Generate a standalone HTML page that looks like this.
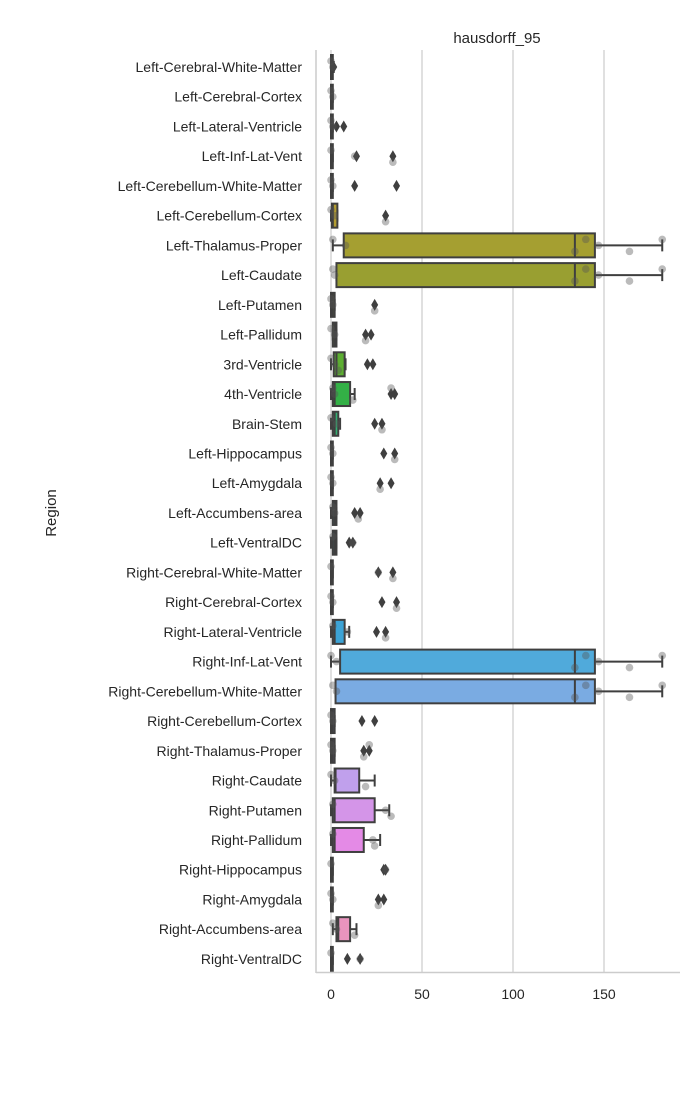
<!DOCTYPE html>
<html><head><meta charset="utf-8"><style>
body{margin:0;background:#fff;}
svg{display:block;font-family:"Liberation Sans","DejaVu Sans",sans-serif;}
</style></head><body>
<svg id="chart" width="700" height="1100" viewBox="0 0 700 1100">
<rect x="0" y="0" width="700" height="1100" fill="#fff"/>
<g id="grid"></g><g id="marks"></g><g id="axes"></g>
</svg>
<script>
const categories=["Left-Cerebral-White-Matter","Left-Cerebral-Cortex","Left-Lateral-Ventricle","Left-Inf-Lat-Vent","Left-Cerebellum-White-Matter","Left-Cerebellum-Cortex","Left-Thalamus-Proper","Left-Caudate","Left-Putamen","Left-Pallidum","3rd-Ventricle","4th-Ventricle","Brain-Stem","Left-Hippocampus","Left-Amygdala","Left-Accumbens-area","Left-VentralDC","Right-Cerebral-White-Matter","Right-Cerebral-Cortex","Right-Lateral-Ventricle","Right-Inf-Lat-Vent","Right-Cerebellum-White-Matter","Right-Cerebellum-Cortex","Right-Thalamus-Proper","Right-Caudate","Right-Putamen","Right-Pallidum","Right-Hippocampus","Right-Amygdala","Right-Accumbens-area","Right-VentralDC"];
const q1=[0,0,0,0,0,0.5,7,3,0,1,1.5,1,1,0,0,1,1,0,0,1,5,2.5,0,0,2,1,1,0,0,3,0];
const median=[0.5,0.5,0.5,0.5,0.5,1,134,134,1,2,3,2,2,0.5,0.5,2,2,0.5,0.5,2,134,134,1,1,2.5,2,2,0.5,0.5,4,0.5];
const q3=[1,1,1,1,1,3.5,145,145,2,3,7.5,10.5,4,1,1,3,3,1,1,7.5,145,145,2,2,15.5,24,18,1,1,10.5,1];
const whiskerLo=[0,0,0,0,0,0,1,3,0,1,0,0,0,0,0,0,0,0,0,0,0,2.5,0,0,0,0,0,0,0,1,0];
const whiskerHi=[1.5,1,1,1,1,3.5,182,182,2,3,8,13,5,1,1,3,3,1,1,10,182,182,2,2,24,32,27,1,1,14,1];
const outliers=[[1.5],[],[3,7],[14,34],[13,36],[30],[],[],[24],[19,22],[20,23],[33,35],[24,28],[29,35],[27,33],[13,16],[10,12],[26,34],[28,36],[25,30],[],[],[17,24],[18,21],[],[],[],[29,30],[26,29],[],[9,16]];
const points=[[0,1],[0,1],[0,1],[0,13,34],[0,1],[0,2,30],[1,8,134,140,147,164,182],[1,2,134,140,147,164,182],[0,1,24],[0,2,19],[0,2,4],[1,2,12,33],[0,3,28],[0,1,35],[0,1,27],[1,2,15],[1,12],[0,26,34],[0,1,36],[1,9,30],[0,3,134,140,147,164,182],[1,3,134,140,147,164,182],[0,1],[0,1,18,21],[0,2,19],[1,30,33],[1,23,24],[0,30],[0,1,26],[1,3,13],[0,16]];
const colors=["#f77189","#f7754f","#e98132","#d48c31","#c39532","#b29c31","#a59f31","#999f31","#8ba431","#77a831","#5cae31","#33b046","#34ae72","#35ac8b","#36ab9a","#37aaa6","#38a9b1","#39a7bc","#3aa5c7","#3ca3d6","#50aadb","#7aabe2","#8b9af4","#a48cf4","#c0a0ec","#d495e8","#e48ae6","#f469c9","#f56bb4","#e994be","#f66ea1"];
const ticks=[0,50,100,150];
const x=v=>331+v*1.82;
const y=i=>67+i*29.73;
const NS="http://www.w3.org/2000/svg";
function mk(tag,attrs,parent,text){const e=document.createElementNS(NS,tag);for(const k in attrs)e.setAttribute(k,attrs[k]);if(text!==undefined)e.textContent=text;parent.appendChild(e);return e;}
const grid=document.getElementById('grid'),marks=document.getElementById('marks'),axes=document.getElementById('axes');
ticks.forEach(t=>{
  const g=mk('line',{x1:x(t),x2:x(t),y1:50,y2:972,stroke:'#cccccc','stroke-width':1.2},grid);
  
  
  const l=mk('text',{x:x(t),y:999,'text-anchor':'middle','font-size':14,fill:'#262626'},axes,String(t));
  
  
});
const bh=24;
categories.forEach((c,i)=>{
  const cy=y(i);
  const lab=mk('text',{x:302,y:cy+5,'text-anchor':'end','font-size':14,fill:'#262626'},axes,c);
  
  
  const g=mk('g',{},marks);
  
  
  mk('line',{x1:x(whiskerLo[i]),x2:x(q1[i]),y1:cy,y2:cy,stroke:'#3f3f3f','stroke-width':2},g);
  mk('line',{x1:x(q3[i]),x2:x(whiskerHi[i]),y1:cy,y2:cy,stroke:'#3f3f3f','stroke-width':2},g);
  mk('line',{x1:x(whiskerLo[i]),x2:x(whiskerLo[i]),y1:cy-6,y2:cy+6,stroke:'#3f3f3f','stroke-width':2},g);
  mk('line',{x1:x(whiskerHi[i]),x2:x(whiskerHi[i]),y1:cy-6,y2:cy+6,stroke:'#3f3f3f','stroke-width':2},g);
  mk('rect',{x:x(q1[i]),y:cy-bh/2,width:Math.max(x(q3[i])-x(q1[i]),1.5),height:bh,fill:colors[i],stroke:'#3f3f3f','stroke-width':2},g);
  mk('line',{x1:x(median[i]),x2:x(median[i]),y1:cy-bh/2,y2:cy+bh/2,stroke:'#3f3f3f','stroke-width':2},g);
  outliers[i].forEach(o=>{
    const d=mk('path',{d:`M${x(o)},${cy-6}L${x(o)+3.5},${cy}L${x(o)},${cy+6}L${x(o)-3.5},${cy}Z`,fill:'#3f3f3f'},g);
    
    
  });
  points[i].forEach((p,k)=>{
    const jy=((k%3)-1)*6;
    const pt=mk('circle',{cx:x(p),cy:cy+jy,r:3.8,fill:'#555','fill-opacity':0.4},g);
    
    
  });
});
const sp1=mk('line',{x1:316,x2:316,y1:50,y2:973,stroke:'#cccccc','stroke-width':1.5},axes);


const sp2=mk('line',{x1:316,x2:680,y1:972.5,y2:972.5,stroke:'#cccccc','stroke-width':1.5},axes);


const ttl=mk('text',{x:497,y:43,'text-anchor':'middle','font-size':15,fill:'#262626'},axes,'hausdorff_95');


const yt=mk('text',{x:56,y:513,'text-anchor':'middle','font-size':15,fill:'#262626',transform:'rotate(-90 56 513)'},axes,'Region');


</script>
</body></html>
